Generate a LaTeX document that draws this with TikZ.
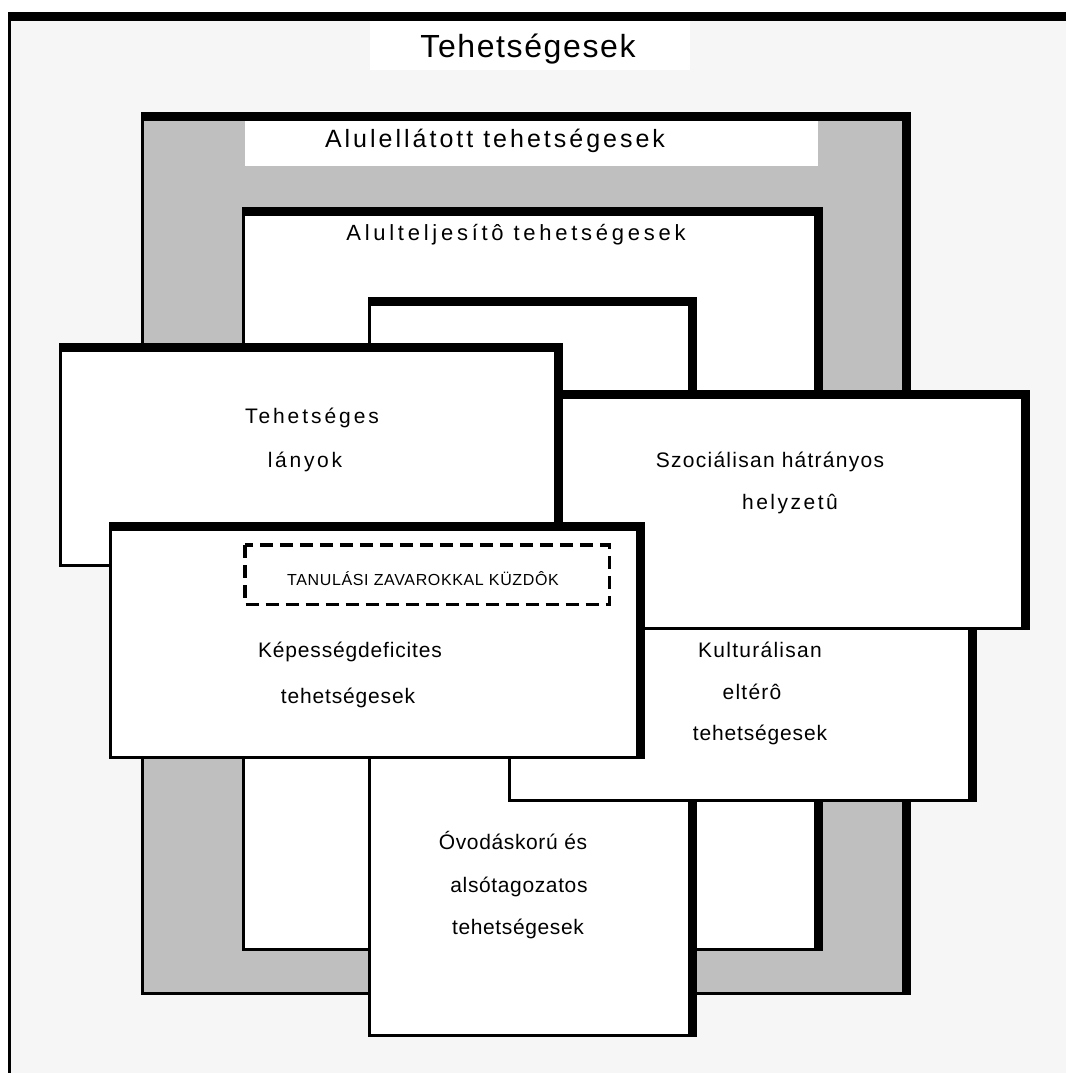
\documentclass[tikz,border=0pt]{standalone}
\usepackage{fontspec}
\setmainfont{Liberation Sans}
\definecolor{bgc}{HTML}{F6F6F6}
\definecolor{grayc}{HTML}{BFBFBF}
\newcommand\shbox[5]{%
  \fill[black] (#1,#2) rectangle (#3,#4);
  \fill[#5] ({#1+3},{#2+9}) rectangle ({#3-9},{#4-3});}
\tikzset{
  lbl/.style={inner sep=0pt, anchor=base, font=\fontsize{21}{24}\selectfont\addfontfeatures{LetterSpace=#1}},
  lbl/.default=6,
  dashbox/.style={draw=black, line width=3.5pt, dash pattern=on 13pt off 7pt}
}
\begin{document}
\begin{tikzpicture}[x=1pt,y=-1pt]
\useasboundingbox (0,0) rectangle (1066,1073);
\fill[white] (0,0) rectangle (1066,1073);
% outer frame
\fill[bgc] (8,12) rectangle (1066,1073);
\fill[black] (8,12) rectangle (1066,21);
\fill[black] (8,12) rectangle (11,1073);
\fill[white] (370,21) rectangle (690,70);
% gray box
\shbox{141}{112}{911}{994.5}{grayc}
\fill[white] (245,121) rectangle (818,166);
% nested boxes
\shbox{242}{207}{823}{951}{white}
\shbox{368}{297}{697}{1037}{white}
\shbox{508}{600}{977}{802}{white}
\shbox{556}{390}{1030}{630}{white}
\shbox{59}{343}{563}{567}{white}
\shbox{109}{522}{645}{759}{white}
% dashed box
\draw[dashbox] (245,545) rectangle (609.5,604.5);
% texts
\node[inner sep=0pt, anchor=base, font=\fontsize{32}{32}\selectfont\addfontfeatures{LetterSpace=5}] (title) at (528,57) {Tehetségesek};
\node[inner sep=0pt, anchor=base, font=\fontsize{25}{25}\selectfont\addfontfeatures{LetterSpace=12}] (ull) at (495,147) {Alulellátott tehetségesek};
\node[inner sep=0pt, anchor=base, font=\fontsize{22}{22}\selectfont\addfontfeatures{LetterSpace=17}] (ulj) at (516,240) {Alulteljesítô tehetségesek};
\node[lbl=14] (tl1) at (312,423) {Tehetséges};
\node[lbl=13] (tl2) at (305,467) {lányok};
\node[lbl=6] (sz1) at (770,467) {Szociálisan hátrányos};
\node[lbl=12] (sz2) at (790,509) {helyzetû};
\node[inner sep=0pt, anchor=base, font=\fontsize{16}{16}\selectfont\addfontfeatures{LetterSpace=4}] (tz) at (423,585) {TANULÁSI ZAVAROKKAL KÜZDÔK};
\node[lbl=4] (kd1) at (350,657) {Képességdeficites};
\node[lbl=4] (kd2) at (348,703) {tehetségesek};
\node[lbl=6] (ku1) at (760,657) {Kulturálisan};
\node[lbl=6] (ku2) at (752,699) {eltérô};
\node[lbl=4] (ku3) at (760,740) {tehetségesek};
\node[lbl=3] (ov1) at (513,849) {Óvodáskorú és};
\node[lbl=3] (ov2) at (519,892) {alsótagozatos};
\node[lbl=3] (ov3) at (518,934) {tehetségesek};
\end{tikzpicture}
\end{document}
